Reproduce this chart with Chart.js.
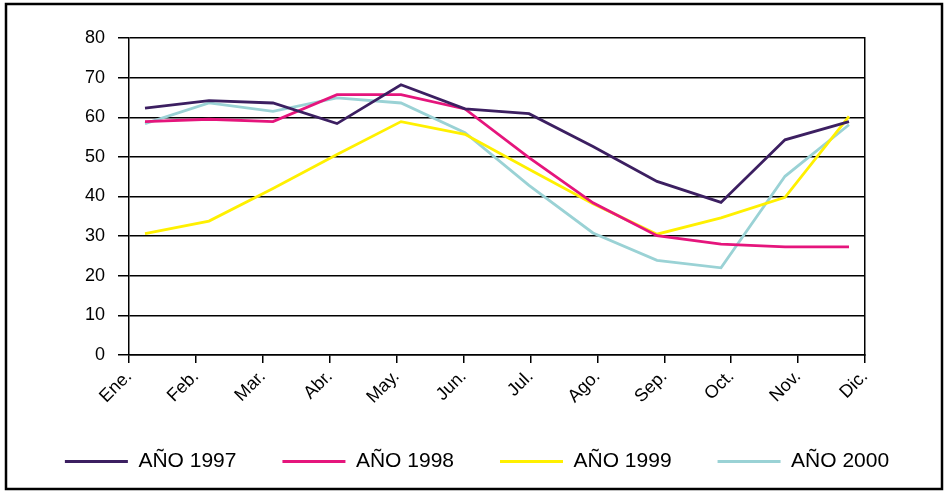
<!DOCTYPE html>
<html>
<head>
<meta charset="utf-8">
<script src="https://cdn.jsdelivr.net/npm/chart.js@4/dist/chart.umd.min.js"></script>
<style>
  body { margin: 0; background: #fff; }
  #wrap { width: 945px; height: 492px; }
</style>
</head>
<body>
<div id="wrap"><canvas id="line-chart"></canvas></div>
<script>
const months = ["Ene.", "Feb.", "Mar.", "Abr.", "May.", "Jun.", "Jul.", "Ago.", "Sep.", "Oct.", "Nov.", "Dic."];
const y1997 = [62.3, 64.2, 63.6, 58.4, 68.2, 62.1, 60.9, 52.6, 43.8, 38.5, 54.3, 58.9];
const y1998 = [58.9, 59.5, 58.9, 65.7, 65.7, 62.1, 49.8, 38.4, 30.1, 28.0, 27.3, 27.3];
const y1999 = [30.6, 33.8, 42.0, 50.6, 58.9, 55.7, 46.9, 38.2, 30.5, 34.6, 39.8, 60.2];
const y2000 = [58.4, 63.6, 61.5, 64.9, 63.6, 56.1, 42.8, 30.8, 23.9, 22.0, 45.1, 58.1];
const yTicks = [0, 10, 20, 30, 40, 50, 60, 70, 80];

const font = "'Liberation Sans', Arial, sans-serif";

function series(label, values, color) {
  return {
    label: label,
    data: values.map((v, i) => ({ x: i, y: v })),
    borderColor: color,
    backgroundColor: color,
    borderWidth: 2.8,
    pointRadius: 0,
    tension: 0,
    xAxisID: "x",
  };
}

// outer black frame round the whole picture
const frame = {
  id: "frame",
  afterDraw(chart) {
    const c = chart.ctx;
    c.save();
    c.strokeStyle = "#000";
    c.lineWidth = 2.5;
    c.strokeRect(6, 4, 936, 485);
    c.restore();
  },
};

new Chart(document.getElementById("line-chart"), {
  type: "line",
  data: {
    labels: months,
    datasets: [
      series("AÑO 1997", y1997, "#3C1F61"),
      series("AÑO 1998", y1998, "#E5157C"),
      series("AÑO 1999", y1999, "#FFF000"),
      series("AÑO 2000", y2000, "#9AD2D5"),
    ],
  },
  options: {
    responsive: true,
    maintainAspectRatio: false,
    animation: false,
    layout: { padding: { left: 9, right: 0, top: 38, bottom: 10 } },
    plugins: {
      tooltip: { enabled: false },
      legend: {
        position: "bottom",
        labels: {
          usePointStyle: true,
          pointStyle: "line",
          pointStyleWidth: 63,
          boxHeight: 10,
          padding: 46,
          color: "#000",
          font: { family: font, size: 21 },
        },
      },
    },
    scales: {
      x: {
        type: "linear",
        min: -0.25,
        max: 11.25,
        display: false,
      },
      x2: {
        type: "category",
        labels: months,
        position: "bottom",
        offset: false,
        afterFit(axis) { axis.height = 50; },
        grid: { display: true, drawOnChartArea: false, color: "#000", lineWidth: 1.5, tickLength: 8 },
        border: { color: "#000", width: 1.5 },
        ticks: {
          color: "#000",
          minRotation: 45,
          maxRotation: 45,
          padding: 3,
          font: { family: font, size: 18 },
        },
      },
      y: {
        min: 0,
        max: 80,
        afterBuildTicks(axis) {
          axis.ticks = yTicks.map((v) => ({ value: v }));
        },
        afterFit(axis) { axis.width = 129 - 9; },
        grid: { color: "#000", lineWidth: 1.5, tickLength: 11 },
        border: { color: "#000", width: 1.5 },
        ticks: { color: "#000", padding: 13, font: { family: font, size: 18 } },
      },
      yr: {
        position: "right",
        min: 0,
        max: 80,
        afterFit(axis) { axis.width = 945 - 865; },
        grid: { display: false, drawTicks: false },
        border: { color: "#000", width: 1.5 },
        ticks: { display: false },
      },
    },
  },
  plugins: [frame],
});
</script>
</body>
</html>
